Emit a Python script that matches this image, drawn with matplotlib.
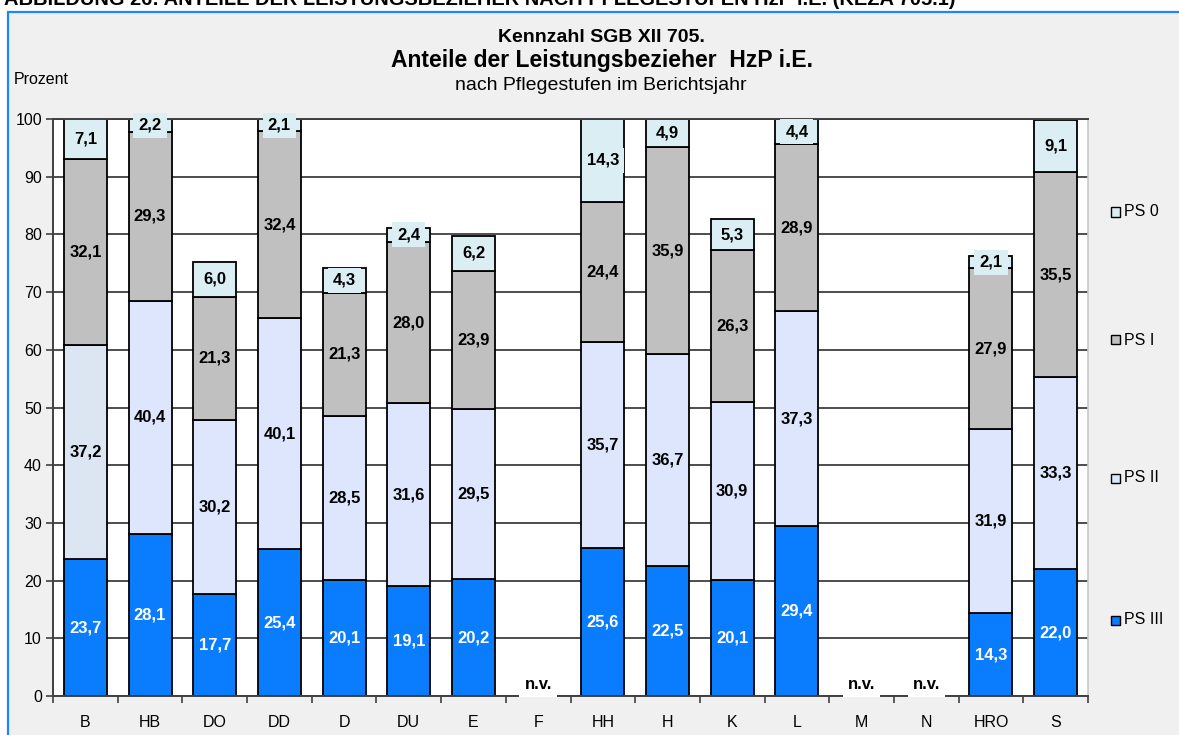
import matplotlib
matplotlib.use("Agg")
import matplotlib.pyplot as plt
from matplotlib.patches import Rectangle
import numpy as np

plt.rcParams['font.family'] = ['Liberation Sans', 'DejaVu Sans']

# Städte (Kennzahl SGB XII 705.), Anteile in Prozent; None = nicht vorhanden
staedte = ["B", "HB", "DO", "DD", "D", "DU", "E", "F", "HH", "H", "K", "L", "M", "N", "HRO", "S"]
ps_iii = [23.7, 28.1, 17.7, 25.4, 20.1, 19.1, 20.2, None, 25.6, 22.5, 20.1, 29.4, None, None, 14.3, 22.0]
ps_ii  = [37.2, 40.4, 30.2, 40.1, 28.5, 31.6, 29.5, None, 35.7, 36.7, 30.9, 37.3, None, None, 31.9, 33.3]
ps_i   = [32.1, 29.3, 21.3, 32.4, 21.3, 28.0, 23.9, None, 24.4, 35.9, 26.3, 28.9, None, None, 27.9, 35.5]
ps_0   = [7.1, 2.2, 6.0, 2.1, 4.3, 2.4, 6.2, None, 14.3, 4.9, 5.3, 4.4, None, None, 2.1, 9.1]
stufen = ["PS III", "PS II", "PS I", "PS 0"]
y_ticks = list(range(0, 101, 10))

farben = {"PS III": "#0a7dff", "PS II": "#dde6fd", "PS I": "#c0c0c0", "PS 0": "#dbeef4"}
ps_ii_b = "#dce6f2"  # Berlin mit abweichendem Farbton
label_farbe = {"PS III": "white", "PS II": "black", "PS I": "black", "PS 0": "black"}

W, H = 1179, 735
fig = plt.figure(figsize=(W / 100, H / 100), dpi=100)
fig.patch.set_facecolor("white")

# Rahmen des Diagrammbereichs
fig.patches.append(Rectangle((8 / W, -0.05), 1.2, 1 - 12 / H + 0.05, transform=fig.transFigure,
                             facecolor="#f0f0f0", edgecolor="#1a86ff", lw=1.6, zorder=-5))

fig.text(4 / W, 1 - 5 / H,
         "ABBILDUNG 26: ANTEILE DER LEISTUNGSBEZIEHER NACH PFLEGESTUFEN HzP i.E. (KEZA 705.1)",
         fontsize=14.4, fontweight="bold", va="baseline", ha="left")

ax = fig.add_axes([53 / W, 1 - 696 / H, (1088 - 53) / W, (696 - 119) / H])
ax.set_zorder(1)
ax.set_facecolor("white")

x = np.arange(len(staedte))
serien = {"PS III": ps_iii, "PS II": ps_ii, "PS I": ps_i, "PS 0": ps_0}
boden = np.zeros(len(staedte))
breite = 0.665

for stufe in stufen:
    werte = serien[stufe]
    for i, v in enumerate(werte):
        if v is None:
            continue
        fc = farben[stufe]
        if stufe == "PS II" and staedte[i] == "B":
            fc = ps_ii_b
        ax.bar(x[i], v, bottom=boden[i], width=breite, color=fc, edgecolor="black",
               linewidth=1.3, zorder=2)
        text = f"{v:.1f}".replace(".", ",")
        box = None
        if stufe == "PS 0":
            box = dict(boxstyle="square,pad=0.3", facecolor=fc, edgecolor="none")
        ax.text(x[i], boden[i] + v / 2, text, ha="center", va="center",
                fontsize=12, fontweight="bold", color=label_farbe[stufe], zorder=4,
                clip_on=False, bbox=box)
        boden[i] += v

for i, v in enumerate(ps_iii):
    if v is None:
        ax.text(x[i], 2.0, "n.v.", ha="center", va="center", fontsize=12,
                fontweight="bold", zorder=4,
                bbox=dict(boxstyle="square,pad=0.3", facecolor="white", edgecolor="none"))

ax.set_xlim(-0.5, len(staedte) - 0.5)
ax.set_ylim(0, 100)
ax.set_yticks(y_ticks)
ax.set_yticklabels([str(t) for t in y_ticks], fontsize=11.5)
ax.yaxis.grid(True, color="#4d4d4d", linewidth=1.4, zorder=1)
ax.set_axisbelow(True)

ax.set_xticks(x)
ax.set_xticklabels(staedte, fontsize=11.5)
ax.set_xticks(np.arange(-0.5, len(staedte)), minor=True)
ax.tick_params(axis="x", which="major", length=0, pad=14)
ax.tick_params(axis="x", which="minor", length=5, width=1.2, color="#404040", direction="out")
ax.tick_params(axis="y", length=5, width=1.2, color="#404040", direction="out", pad=3)

for s in ["left", "bottom", "top"]:
    ax.spines[s].set_color("#404040")
    ax.spines[s].set_linewidth(1.4)
ax.spines["right"].set_color("#c8c8c8")
ax.spines["right"].set_linewidth(1.2)

# Titel
fig.text(601 / W, 1 - 37 / H, "Kennzahl SGB XII 705.", fontsize=14, fontweight="bold",
         ha="center", va="center")
fig.text(602 / W, 1 - 61 / H, "Anteile der Leistungsbezieher  HzP i.E.", fontsize=16.5,
         fontweight="bold", ha="center", va="center")
fig.text(601 / W, 1 - 85 / H, "nach Pflegestufen im Berichtsjahr", fontsize=14,
         ha="center", va="center")
fig.text(14 / W, 1 - 80 / H, "Prozent", fontsize=11.5, ha="left", va="center")

# Legende
legende_y = {"PS 0": 212, "PS I": 340, "PS II": 478, "PS III": 620}
for stufe, yp in legende_y.items():
    fig.patches.append(Rectangle((1111 / W, 1 - (yp + 4.5) / H), 9 / W, 9 / H,
                                 transform=fig.transFigure, facecolor=farben[stufe],
                                 edgecolor="black", lw=1.0, zorder=3))
    fig.text(1124 / W, 1 - yp / H, stufe, fontsize=11.5, ha="left", va="center")

fig.savefig("out.png", dpi=100)
